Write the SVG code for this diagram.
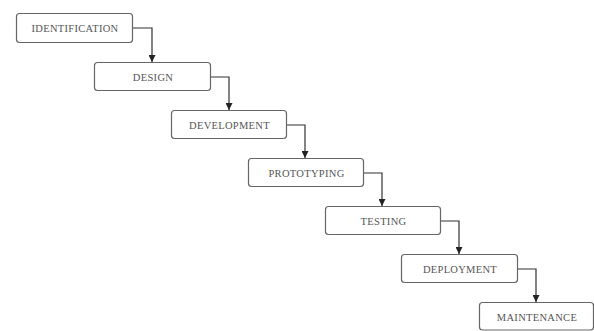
<svg xmlns="http://www.w3.org/2000/svg" width="594" height="331" viewBox="0 0 594 331">
<defs>
<marker id="ah" viewBox="0 0 10 10" refX="10" refY="5" markerWidth="7" markerHeight="7" markerUnits="userSpaceOnUse" orient="auto">
<path d="M0,0 L10,5 L0,10 Z" fill="#222"/>
</marker>
<style>
.box{fill:#fff;stroke:#666;stroke-width:1.2}
.lbl{font-family:"Liberation Serif","Times New Roman",serif;font-size:10.5px;letter-spacing:0.3px;fill:#555;text-anchor:middle;dominant-baseline:central}
.con{fill:none;stroke:#333;stroke-width:1.2;marker-end:url(#ah)}
</style>
</defs>
<rect width="594" height="331" fill="#fff"/>
<g id="connectors">
<path class="con" d="M133,28 H152 V62"/>
<path class="con" d="M210,77 H229 V110"/>
<path class="con" d="M287,125 H305 V158"/>
<path class="con" d="M364,173 H382 V206"/>
<path class="con" d="M441,221 H459 V254"/>
<path class="con" d="M518,269 H536 V302"/>
</g>
<g id="n1"><rect class="box" x="16.5" y="13.5" width="116" height="29" rx="3"/><text class="lbl" x="75" y="28">IDENTIFICATION</text></g>
<g id="n2"><rect class="box" x="94.5" y="62.5" width="116" height="28" rx="3"/><text class="lbl" x="153" y="77">DESIGN</text></g>
<g id="n3"><rect class="box" x="171.5" y="110.5" width="115" height="28" rx="3"/><text class="lbl" x="229.5" y="125">DEVELOPMENT</text></g>
<g id="n4"><rect class="box" x="248.5" y="158.5" width="115" height="28" rx="3"/><text class="lbl" x="306.5" y="173">PROTOTYPING</text></g>
<g id="n5"><rect class="box" x="325.5" y="206.5" width="115" height="28" rx="3"/><text class="lbl" x="383.5" y="221">TESTING</text></g>
<g id="n6"><rect class="box" x="401.5" y="254.5" width="116" height="28" rx="3"/><text class="lbl" x="460" y="269">DEPLOYMENT</text></g>
<g id="n7"><rect class="box" x="479.5" y="302.5" width="114" height="27.5" rx="3"/><text class="lbl" x="537" y="317">MAINTENANCE</text></g>
</svg>
